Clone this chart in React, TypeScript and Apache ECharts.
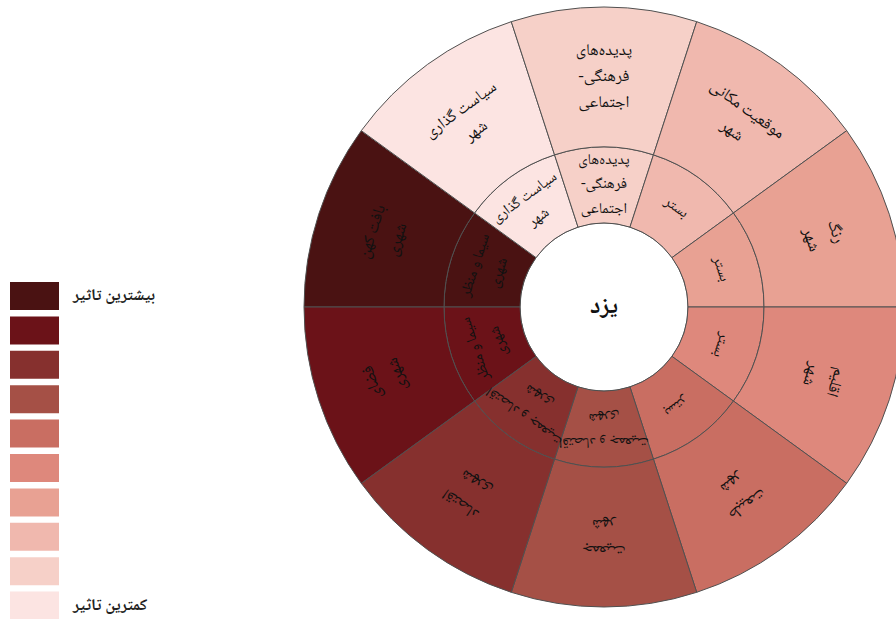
import React, { useEffect, useRef } from "react";
import * as echarts from "echarts";

// Sectors, clockwise starting at the left horizontal (9 o'clock)
const centerLabel = "یزد";
const outerLabels = [
  "بافت کهن\nشهری",
  "سیاست گذاری\nشهر",
  "پدیده\u200cهای\n-فرهنگی\nاجتماعی",
  "موقعیت مکانی\nشهر",
  "رنگ\nشهر",
  "اقلیم\nشهر",
  "طبیعت\nشهر",
  "جمعیت\nشهر",
  "اقتصاد\nشهری",
  "فضای\nشهری",
];
const innerLabels = [
  "سیما و منظر\nشهری",
  "سیاست گذاری\nشهر",
  "پدیده\u200cهای\n-فرهنگی\nاجتماعی",
  "بستر",
  "بستر",
  "بستر",
  "بستر",
  "اقتصاد و جمعیت\nشهری",
  "اقتصاد و جمعیت\nشهری",
  "سیما و منظر\nشهری",
];
const sectorValues = [1, 1, 1, 1, 1, 1, 1, 1, 1, 1];
// impact rank of each sector (1 = most impact)
const impactRank = [1, 10, 9, 8, 7, 6, 5, 4, 3, 2];
const impactColors = [
  "#4a1212",
  "#6b1218",
  "#86302e",
  "#a55046",
  "#c96e62",
  "#de887c",
  "#e8a193",
  "#f0b8ae",
  "#f6d0c8",
  "#fce4e2",
];
const legendTexts = ["بیشترین تاثیر", "کمترین تاثیر"];

const FONT = "'Noto Naskh Arabic', 'Noto Sans Arabic', 'DejaVu Sans', sans-serif";

export default function App() {
  const ref = useRef<HTMLDivElement>(null);

  useEffect(() => {
    if (!ref.current) return;
    const chart = echarts.init(ref.current, null, { renderer: "svg" });
    const n = sectorValues.length;
    const step = 360 / n;
    const rot = (i: number) => 180 - step * i - step / 2 - 90;

    const treeData = innerLabels.map((inner, i) => {
      const color = impactColors[impactRank[i] - 1];
      return {
        name: "inner" + i,
        value: sectorValues[i],
        itemStyle: { color },
        label: {
          rotate: rot(i),
          formatter: inner,
          fontSize: 15,
          lineHeight: 24.5,
        },
        children: [
          {
            name: outerLabels[i],
            value: sectorValues[i],
            itemStyle: { color },
            label: { rotate: rot(i), fontSize: 16.5, lineHeight: 26 },
          },
        ],
      };
    });

    // legend entries come from a zero-size pie that carries the same colours
    const legendData = outerLabels.map((name, i) => ({
      name,
      value: sectorValues[i],
      itemStyle: { color: impactColors[impactRank[i] - 1] },
    }));
    const legendOrder = impactRank
      .map((r, i) => ({ r, name: outerLabels[i] }))
      .sort((a, b) => a.r - b.r)
      .map((d) => d.name);

    const center = [604, 307];

    chart.setOption({
      animation: false,
      legend: {
        orient: "vertical",
        left: 10,
        top: 282,
        height: 400,
        padding: 0,
        itemWidth: 49,
        itemHeight: 28,
        itemGap: 6.4,
        icon: "rect",
        selectedMode: false,
        data: legendOrder,
        itemStyle: { borderWidth: 0, opacity: 1 },
        formatter: (name: string) =>
          name === legendOrder[0]
            ? legendTexts[0]
            : name === legendOrder[legendOrder.length - 1]
            ? legendTexts[1]
            : "",
        textStyle: {
          fontFamily: FONT,
          fontSize: 16.5,
          fontWeight: "bold",
          color: "#222",
          padding: [2, 0, 0, 9],
        },
      },
      series: [
        {
          type: "pie",
          silent: true,
          center,
          radius: [0, 84],
          labelLine: { show: false },
          itemStyle: { color: "#ffffff", borderColor: "#505050", borderWidth: 1 },
          label: {
            position: "center",
            fontFamily: FONT,
            fontSize: 24,
            fontWeight: "bold",
            color: "#111",
          },
          data: [{ name: centerLabel, value: 1 }],
        },
        {
          type: "pie",
          silent: true,
          center,
          radius: [0, 0],
          label: { show: false },
          labelLine: { show: false },
          data: legendData,
          z: 0,
        },
        {
          type: "sunburst",
          silent: true,
          center,
          startAngle: 180,
          clockwise: true,
          sort: null,
          nodeClick: false,
          emphasis: { disabled: true },
          itemStyle: { borderColor: "#505050", borderWidth: 1 },
          label: {
            position: "inside",
            align: "center",
            fontFamily: FONT,
            color: "#111",
            minAngle: 0,
          },
          levels: [
            {},
            { r0: 84, r: 160 },
            { r0: 160, r: 300 },
          ],
          data: treeData,
        },
      ],
    });
    return () => chart.dispose();
  }, []);

  return (
    <div
      ref={ref}
      style={{ position: "fixed", left: 0, top: 0, width: 896, height: 619, background: "#fff" }}
    />
  );
}
